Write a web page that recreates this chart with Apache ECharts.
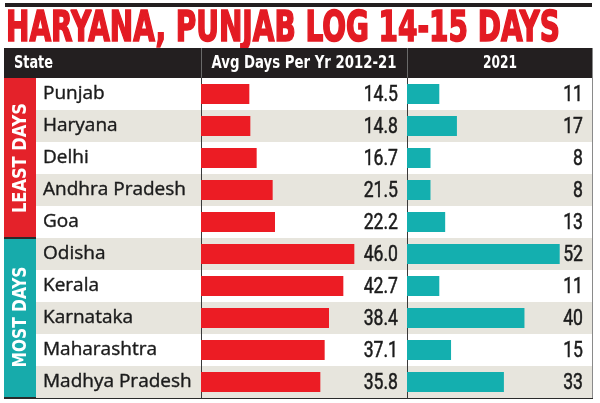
<!DOCTYPE html>
<html>
<head>
<meta charset="utf-8">
<script src="https://cdn.jsdelivr.net/npm/echarts@6/dist/echarts.min.js"></script>
<style>
html,body{margin:0;padding:0;background:#fff;}
#c{width:600px;height:403px;}
</style>
</head>
<body>
<div id="c"></div>
<script>
const titleText = 'HARYANA, PUNJAB LOG 14-15 DAYS';
const headers = ['State', 'Avg Days Per Yr 2012-21', '2021'];
const groups = ['LEAST DAYS', 'MOST DAYS'];
const states = ['Punjab', 'Haryana', 'Delhi', 'Andhra Pradesh', 'Goa', 'Odisha', 'Kerala', 'Karnataka', 'Maharashtra', 'Madhya Pradesh'];
const avgDays = [14.5, 14.8, 16.7, 21.5, 22.2, 46.0, 42.7, 38.4, 37.1, 35.8];
const days2021 = [11, 17, 8, 8, 13, 52, 11, 40, 15, 33];

const RED = '#ec1c24', TEAL = '#14afaf', DARK = '#231f20';
const NAME_FONT = '"Open Sans", "Noto Sans", sans-serif';
const COND = '"DejaVu Sans Condensed", "Liberation Sans", sans-serif';

function measure(text, font) {
  const ctx = document.createElement('canvas').getContext('2d');
  ctx.font = font;
  return ctx.measureText(text).width;
}
const titleFont = 'bold 42px ' + COND;
const titleScale = 554 / measure(titleText, titleFont);
const headFont = 'bold 18px ' + COND;
const headWidths = [39, 185, 34];
const sideFont = 'bold 20px ' + COND;
const sideLens = [110, 101];
const numFont = '22px Roboto, "Noto Sans", sans-serif';

const chart = echarts.init(document.getElementById('c'), null, {renderer: 'canvas'});
const gridTop = 78, gridH = 320;

function numberSeries(xIdx, yIdx, vals, xMax, margin, fmt) {
  return {
    type: 'custom', xAxisIndex: xIdx, yAxisIndex: yIdx, silent: true, z: 5,
    data: vals.map((v, i) => [v, i]),
    renderItem: function (params, api) {
      const p = api.coord([xMax, api.value(1)]);
      return {
        type: 'text', x: p[0] - margin, y: p[1] + 1, scaleX: 0.8,
        style: {text: fmt(api.value(0)), font: numFont, fill: '#1b1b1b',
          stroke: '#1b1b1b', lineWidth: 0.5, align: 'right', verticalAlign: 'middle'}
      };
    }
  };
}

const headerGraphics = headers.map((h, i) => {
  const s = headWidths[i] / measure(h, headFont);
  const xs = [14, 304, 500];
  return {type: 'text', x: xs[i], y: 63, scaleX: s,
    style: {text: h, font: headFont, fill: '#fff', verticalAlign: 'middle', align: i === 0 ? 'left' : 'center'}};
});
const sideGraphics = groups.map((g, i) => ({
  type: 'text', x: 21, y: [158, 317][i], rotation: Math.PI / 2,
  scaleX: sideLens[i] / measure(g, sideFont),
  style: {text: g, font: sideFont, fill: '#fff', align: 'center', verticalAlign: 'middle'}
}));

chart.setOption({
  animation: false,
  backgroundColor: '#ffffff',
  grid: [
    {left: 36, top: gridTop, width: 556, height: gridH},
    {left: 201, top: gridTop, width: 200, height: gridH},
    {left: 407, top: gridTop, width: 185, height: gridH}
  ],
  xAxis: [
    {gridIndex: 0, type: 'value', show: false, min: 0, max: 1},
    {gridIndex: 1, type: 'value', show: false, min: 0, max: 60},
    {gridIndex: 2, type: 'value', show: false, min: 0, max: 63}
  ],
  yAxis: [
    {gridIndex: 0, type: 'category', data: states, inverse: true,
      axisLine: {show: false}, axisTick: {show: false}, axisLabel: {show: false},
      splitLine: {show: false},
      splitArea: {show: true, areaStyle: {color: ['#ffffff', '#e7e5dd']}}},
    {gridIndex: 1, type: 'category', data: states, inverse: true,
      axisLine: {show: true, lineStyle: {color: '#3a3a3a', width: 1}},
      axisTick: {show: false},
      axisLabel: {show: true, align: 'left', margin: 158, color: '#1b1b1b',
        textBorderColor: '#1b1b1b', textBorderWidth: 0.4,
        fontFamily: NAME_FONT, fontSize: 19}},
    {gridIndex: 2, type: 'category', data: states, inverse: true,
      axisLine: {show: true, lineStyle: {color: '#3a3a3a', width: 1}},
      axisTick: {show: false}, axisLabel: {show: false}}
  ],
  series: [
    {type: 'bar', xAxisIndex: 1, yAxisIndex: 1, data: avgDays, barWidth: 20,
      itemStyle: {color: RED}, silent: true},
    {type: 'bar', xAxisIndex: 2, yAxisIndex: 2, data: days2021, barWidth: 20,
      itemStyle: {color: TEAL}, silent: true},
    numberSeries(1, 1, avgDays, 60, 3, v => v.toFixed(1)),
    numberSeries(2, 2, days2021, 63, 9, v => String(v))
  ],
  graphic: [
    {type: 'rect', shape: {x: 5, y: 3, width: 587, height: 4}, style: {fill: DARK}},
    {type: 'text', x: 6, y: 51, scaleX: titleScale, scaleY: 1,
      style: {text: titleText, font: titleFont, fill: '#e31b23', stroke: '#e31b23', lineWidth: 1.6,
        verticalAlign: 'bottom', align: 'left'}},
    {type: 'rect', shape: {x: 4, y: 48, width: 588, height: 30}, style: {fill: DARK}},
    {type: 'line', shape: {x1: 201.5, y1: 48, x2: 201.5, y2: 78}, style: {stroke: '#6a6a6a', lineWidth: 1}},
    {type: 'line', shape: {x1: 407.5, y1: 48, x2: 407.5, y2: 78}, style: {stroke: '#6a6a6a', lineWidth: 1}}
  ].concat(headerGraphics).concat([
    {type: 'rect', shape: {x: 4, y: 78, width: 32, height: 160}, style: {fill: '#e4222a'}},
    {type: 'rect', shape: {x: 4, y: 238, width: 32, height: 160}, style: {fill: '#17abab'}}
  ]).concat(sideGraphics).concat([
    {type: 'line', shape: {x1: 4, y1: 238, x2: 592, y2: 238}, style: {stroke: '#2a2a2a', lineWidth: 2}},
    {type: 'line', shape: {x1: 4, y1: 398, x2: 593, y2: 398}, style: {stroke: '#2a2a2a', lineWidth: 2}},
    {type: 'line', shape: {x1: 592.5, y1: 48, x2: 592.5, y2: 398}, style: {stroke: '#8a8a8a', lineWidth: 1}}
  ])
});
</script>
</body>
</html>
